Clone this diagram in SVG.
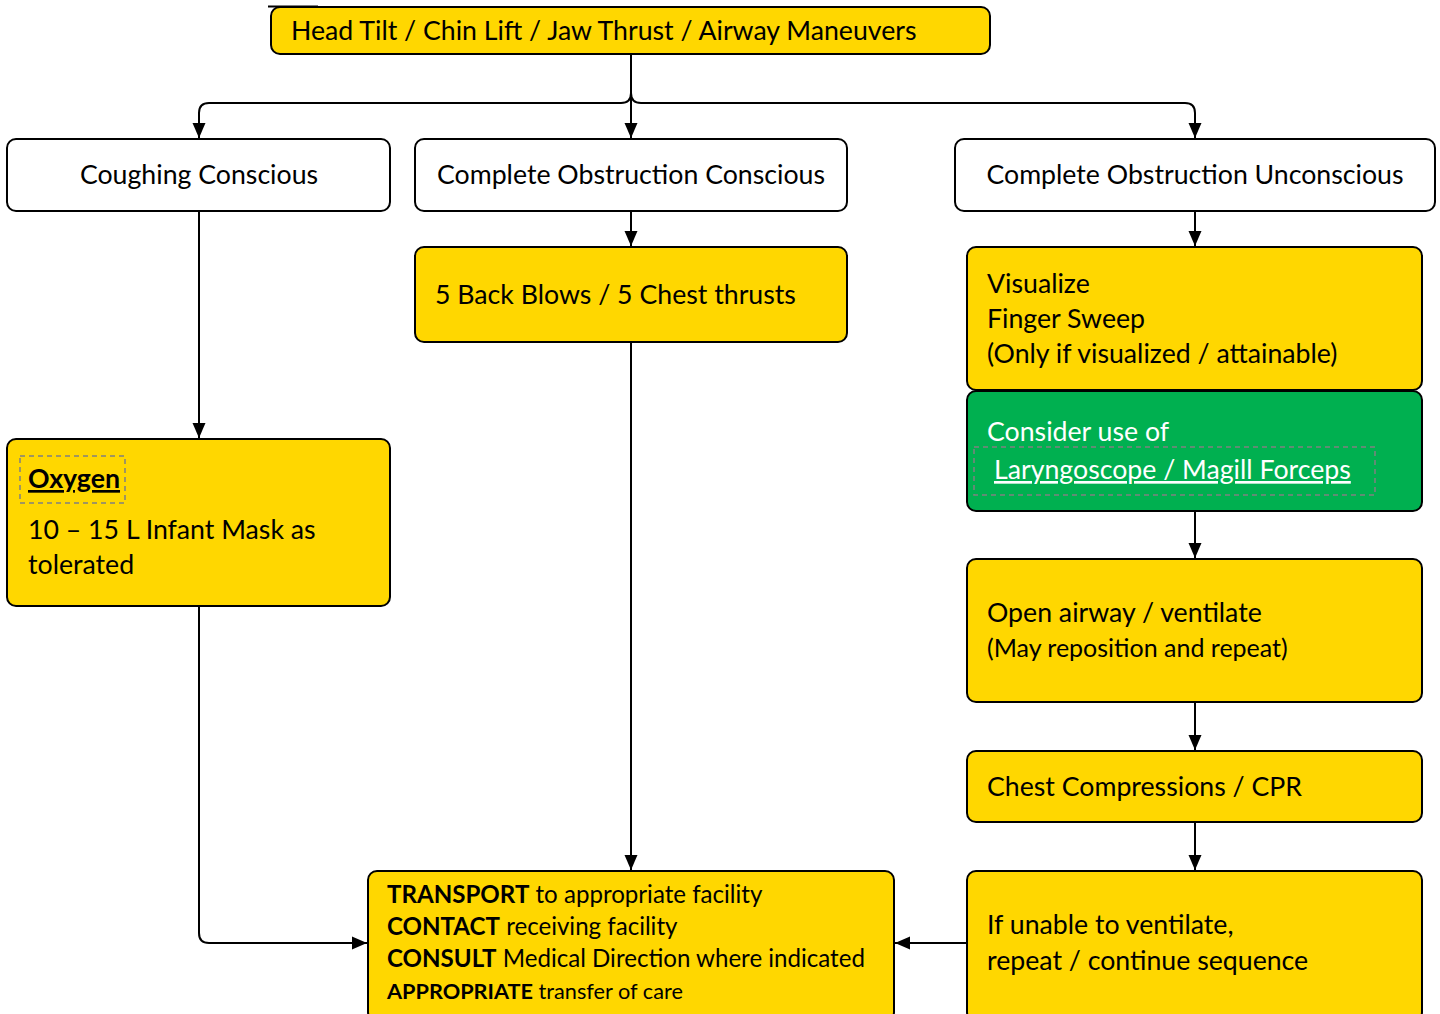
<svg xmlns="http://www.w3.org/2000/svg" width="1440" height="1014" viewBox="0 0 1440 1014">
  <style>
    .box { stroke: #000; stroke-width: 2; }
    .yel { fill: #FFD700; }
    .wht { fill: #FFFFFF; }
    .grn { fill: #00B050; }
    .t { font-family: Lato, "Open Sans", sans-serif; font-size: 26.7px; fill: #000; }
    .w { fill: #FFFFFF; }
    .b { font-weight: bold; }
    .sm { font-size: 25px; }
    .tr { font-size: 24.1px; }
    .ap { font-size: 21.7px; }
    .dash { fill: none; stroke: #808080; stroke-width: 1.5; stroke-dasharray: 5 4; }
    .conn { fill: none; stroke: #000; stroke-width: 2; }
  </style>
  <defs>
    <marker id="arrow" markerUnits="userSpaceOnUse" markerWidth="16" markerHeight="16" viewBox="0 0 16 16" refX="15" refY="8" orient="auto">
      <path d="M0,1.5 L15,8 L0,14.5 Z" fill="#000"/>
    </marker>
  </defs>

  <rect width="1440" height="1014" fill="#FFFFFF"/>

  <!-- connectors -->
  <g id="connectors">
    <path class="conn" d="M631,54 V93 Q631,103 621,103 H209 Q199,103 199,113 V138" marker-end="url(#arrow)"/>
    <path class="conn" d="M631,93 Q631,103 641,103 H1185 Q1195,103 1195,113 V138" marker-end="url(#arrow)"/>
    <path class="conn" d="M631,93 V138" marker-end="url(#arrow)"/>
    <path class="conn" d="M199,211 V438" marker-end="url(#arrow)"/>
    <path class="conn" d="M631,211 V246" marker-end="url(#arrow)"/>
    <path class="conn" d="M1195,211 V246" marker-end="url(#arrow)"/>
    <path class="conn" d="M631,342 V870" marker-end="url(#arrow)"/>
    <path class="conn" d="M1195,511 V558" marker-end="url(#arrow)"/>
    <path class="conn" d="M1195,702 V750" marker-end="url(#arrow)"/>
    <path class="conn" d="M1195,822 V870" marker-end="url(#arrow)"/>
    <path class="conn" d="M199,606 V933 Q199,943 209,943 H367" marker-end="url(#arrow)"/>
    <path class="conn" d="M967,943 H895" marker-end="url(#arrow)"/>
  </g>

  <g id="airway-maneuvers">
    <rect class="box yel" x="271" y="7" width="719" height="47" rx="9"/>
    <line x1="268" y1="6.5" x2="318" y2="6.5" stroke="#000" stroke-width="2"/>
    <text class="t" x="291" y="40">Head Tilt / Chin Lift / Jaw Thrust / Airway Maneuvers</text>
  </g>

  <g id="coughing-conscious">
    <rect class="box wht" x="7" y="139" width="383" height="72" rx="9"/>
    <text class="t" x="199" y="184" text-anchor="middle">Coughing Conscious</text>
  </g>

  <g id="obstruction-conscious">
    <rect class="box wht" x="415" y="139" width="432" height="72" rx="9"/>
    <text class="t" x="631" y="184" text-anchor="middle">Complete Obstruction Conscious</text>
  </g>

  <g id="obstruction-unconscious">
    <rect class="box wht" x="955" y="139" width="480" height="72" rx="9"/>
    <text class="t" x="1195" y="184" text-anchor="middle">Complete Obstruction Unconscious</text>
  </g>

  <g id="back-blows">
    <rect class="box yel" x="415" y="247" width="432" height="95" rx="9"/>
    <text class="t" x="435" y="304">5 Back Blows / 5 Chest thrusts</text>
  </g>

  <g id="visualize">
    <rect class="box yel" x="967" y="247" width="455" height="143" rx="9"/>
    <text class="t" x="987" y="293">Visualize</text>
    <text class="t" x="987" y="328">Finger Sweep</text>
    <text class="t" x="987" y="363">(Only if visualized / attainable)</text>
  </g>

  <g id="laryngoscope">
    <rect class="box grn" x="967" y="391" width="455" height="120" rx="9"/>
    <text class="t w" x="987" y="441">Consider use of</text>
    <rect class="dash" x="974" y="447" width="401" height="48"/>
    <text class="t w" x="994" y="479" text-decoration="underline">Laryngoscope / Magill Forceps</text>
  </g>

  <g id="oxygen">
    <rect class="box yel" x="7" y="439" width="383" height="167" rx="9"/>
    <rect class="dash" x="20" y="456" width="105" height="47"/>
    <text class="t b" x="28" y="488" text-decoration="underline">Oxygen</text>
    <text class="t" x="28" y="539">10 – 15 L Infant Mask as</text>
    <text class="t" x="28" y="574">tolerated</text>
  </g>

  <g id="open-airway">
    <rect class="box yel" x="967" y="559" width="455" height="143" rx="9"/>
    <text class="t" x="987" y="622">Open airway / ventilate</text>
    <text class="t sm" x="987" y="657">(May reposition and repeat)</text>
  </g>

  <g id="chest-compressions">
    <rect class="box yel" x="967" y="751" width="455" height="71" rx="9"/>
    <text class="t" x="987" y="796">Chest Compressions / CPR</text>
  </g>

  <g id="unable-to-ventilate">
    <rect class="box yel" x="967" y="871" width="455" height="150" rx="9"/>
    <text class="t" x="987" y="934">If unable to ventilate,</text>
    <text class="t" x="987" y="970">repeat / continue sequence</text>
  </g>

  <g id="transport">
    <rect class="box yel" x="368" y="871" width="526" height="150" rx="9"/>
    <text class="t tr" x="387" y="903"><tspan class="b">TRANSPORT</tspan> to appropriate facility</text>
    <text class="t tr" x="387" y="935"><tspan class="b">CONTACT</tspan> receiving facility</text>
    <text class="t tr" x="387" y="967"><tspan class="b">CONSULT</tspan> Medical Direction where indicated</text>
    <text class="t ap" x="387" y="999"><tspan class="b">APPROPRIATE</tspan> transfer of care</text>
  </g>
</svg>
